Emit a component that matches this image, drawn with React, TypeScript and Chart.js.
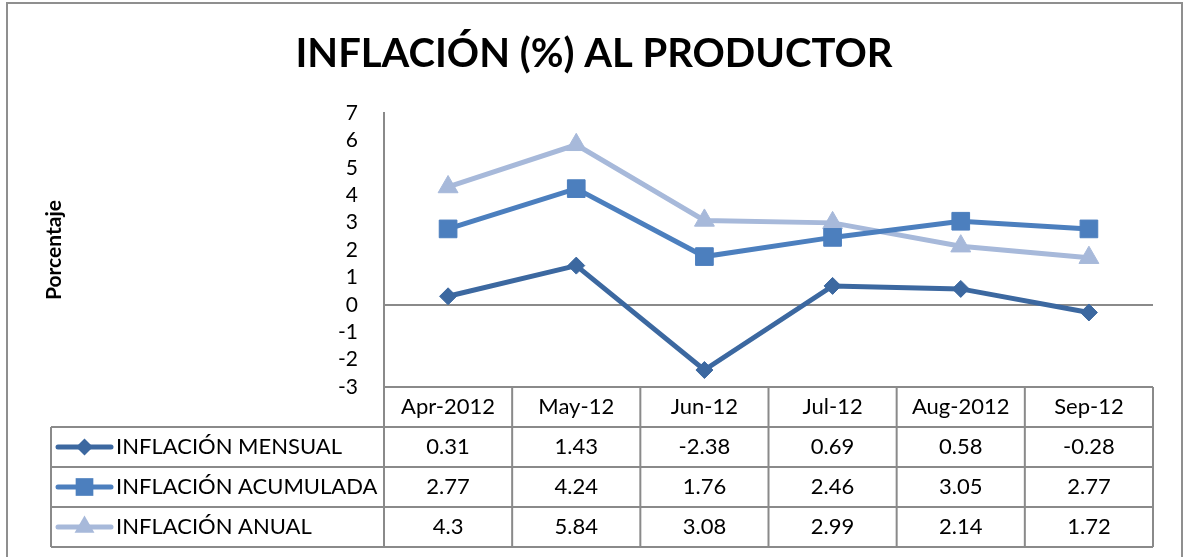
import React, { useEffect, useRef } from 'react';
import { Chart, registerables } from 'chart.js';

Chart.register(...registerables);

const TITLE = 'INFLACIÓN (%) AL PRODUCTOR';
const Y_TITLE = 'Porcentaje';
const categories = ['Apr-2012', 'May-12', 'Jun-12', 'Jul-12', 'Aug-2012', 'Sep-12'];
const mensual = [0.31, 1.43, -2.38, 0.69, 0.58, -0.28];
const acumulada = [2.77, 4.24, 1.76, 2.46, 3.05, 2.77];
const anual = [4.3, 5.84, 3.08, 2.99, 2.14, 1.72];
const seriesNames = ['INFLACIÓN MENSUAL', 'INFLACIÓN ACUMULADA', 'INFLACIÓN ANUAL'];
const yMin = -3;
const yMax = 7;
const yStep = 1;

const FONT = 'Lato, "Open Sans", sans-serif';
const COLORS = ['#3C68A0', '#4C7FBE', '#A7B9DA'];
const STYLES = ['rectRot', 'rect', 'triangle'];
const RADII = [8.5, 12.5, 11.5];
const GRID = '#8a8a8a';

function drawMarker(ctx: CanvasRenderingContext2D, style: string, x: number, y: number, r: number) {
  ctx.beginPath();
  if (style === 'rectRot') {
    ctx.moveTo(x, y - r);
    ctx.lineTo(x + r, y);
    ctx.lineTo(x, y + r);
    ctx.lineTo(x - r, y);
  } else if (style === 'rect') {
    const s = Math.SQRT1_2 * r;
    ctx.rect(x - s, y - s, 2 * s, 2 * s);
  } else {
    const a = (2 * Math.PI) / 3;
    for (let i = 0; i < 3; i++) {
      const px = x + Math.sin(i * a) * r;
      const py = y - Math.cos(i * a) * r;
      if (i === 0) ctx.moveTo(px, py);
      else ctx.lineTo(px, py);
    }
  }
  ctx.closePath();
  ctx.fill();
}

const tablePlugin = {
  id: 'tablePlugin',
  afterDraw(chart: any) {
    const ctx: CanvasRenderingContext2D = chart.ctx;
    const area = chart.chartArea;
    const n = categories.length;
    const colW = (area.right - area.left) / n;
    const rowH = 40;
    const top = area.bottom;
    const tableLeft = 51;
    const bottom = top + rowH * 4;
    const seriesData = [mensual, acumulada, anual];

    ctx.save();
    // outer frame
    ctx.strokeStyle = '#8f8f8f';
    ctx.lineWidth = 2;
    ctx.strokeRect(7, 3, 1175, 700);

    // title
    ctx.fillStyle = '#000';
    ctx.font = `bold 40px ${FONT}`;
    ctx.textAlign = 'center';
    ctx.textBaseline = 'alphabetic';
    ctx.fillText(TITLE, 594, 67);

    // table lines
    ctx.strokeStyle = GRID;
    ctx.lineWidth = 2;
    ctx.beginPath();
    ctx.moveTo(area.left, top);
    ctx.lineTo(area.right, top);
    for (let r = 1; r <= 4; r++) {
      ctx.moveTo(tableLeft, top + r * rowH);
      ctx.lineTo(area.right, top + r * rowH);
    }
    ctx.moveTo(tableLeft, top + rowH);
    ctx.lineTo(tableLeft, bottom);
    for (let c = 0; c <= n; c++) {
      const x = area.left + c * colW;
      ctx.moveTo(x, c === 0 ? area.top : top);
      ctx.lineTo(x, bottom);
    }
    ctx.stroke();

    // header labels
    ctx.fillStyle = '#000';
    ctx.font = `22px ${FONT}`;
    ctx.textAlign = 'center';
    ctx.textBaseline = 'middle';
    categories.forEach((c, i) => {
      ctx.fillText(c, area.left + (i + 0.5) * colW, top + rowH / 2);
    });

    // series rows
    seriesData.forEach((data, s) => {
      const cy = top + (s + 1.5) * rowH;
      // legend key
      ctx.strokeStyle = COLORS[s];
      ctx.fillStyle = COLORS[s];
      ctx.lineWidth = 5;
      ctx.lineCap = 'round';
      ctx.beginPath();
      ctx.moveTo(58, cy);
      ctx.lineTo(111, cy);
      ctx.stroke();
      drawMarker(ctx, STYLES[s], 84.5, cy, RADII[s]);
      ctx.fillStyle = '#000';
      ctx.textAlign = 'left';
      ctx.fillText(seriesNames[s], 116, cy);
      ctx.textAlign = 'center';
      data.forEach((v, i) => {
        ctx.fillText(String(v), area.left + (i + 0.5) * colW, cy);
      });
    });
    ctx.restore();
  },
};

export default function App() {
  const ref = useRef<HTMLCanvasElement | null>(null);

  useEffect(() => {
    document.body.style.margin = '0';
    const canvas = ref.current;
    if (!canvas) return;
    const datasets = [mensual, acumulada, anual].map((d, i) => ({
      label: seriesNames[i],
      data: d,
      borderColor: COLORS[i],
      backgroundColor: COLORS[i],
      borderWidth: 5,
      pointStyle: STYLES[i] as any,
      pointRadius: RADII[i],
      pointHoverRadius: RADII[i],
      pointBorderWidth: 1,
      pointBackgroundColor: COLORS[i],
      pointBorderColor: COLORS[i],
      tension: 0,
      clip: false as any,
    }));
    const chart = new Chart(canvas, {
      type: 'line',
      data: { labels: categories, datasets },
      plugins: [tablePlugin],
      options: {
        responsive: false,
        animation: false,
        events: [],
        layout: { padding: { left: 8, right: 35, top: 113, bottom: 170 } },
        plugins: {
          legend: { display: false },
          title: { display: false },
          tooltip: { enabled: false },
        },
        scales: {
          x: {
            type: 'category',
            offset: true,
            ticks: { display: false },
            grid: { display: false },
            border: { display: false },
            afterFit: (scale: any) => {
              scale.height = 0;
            },
          },
          y: {
            min: yMin,
            max: yMax,
            ticks: {
              stepSize: yStep,
              autoSkip: false,
              padding: 26,
              color: '#000',
              font: { family: FONT, size: 21 },
            },
            grid: {
              drawTicks: false,
              lineWidth: 2,
              color: (c: any) => (c.tick && c.tick.value === 0 ? GRID : 'rgba(0,0,0,0)'),
            },
            border: { display: true, color: GRID, width: 2 },
            title: {
              display: true,
              text: Y_TITLE,
              color: '#000',
              font: { family: FONT, size: 21, weight: 'bold' },
              padding: { top: 34, bottom: 0 },
            },
            afterFit: (scale: any) => {
              scale.width = 376;
            },
          },
        },
      },
    });
    return () => chart.destroy();
  }, []);

  return (
    <div style={{ width: 1188, height: 557, background: '#fff' }}>
      <canvas ref={ref} width={1188} height={557} />
    </div>
  );
}
